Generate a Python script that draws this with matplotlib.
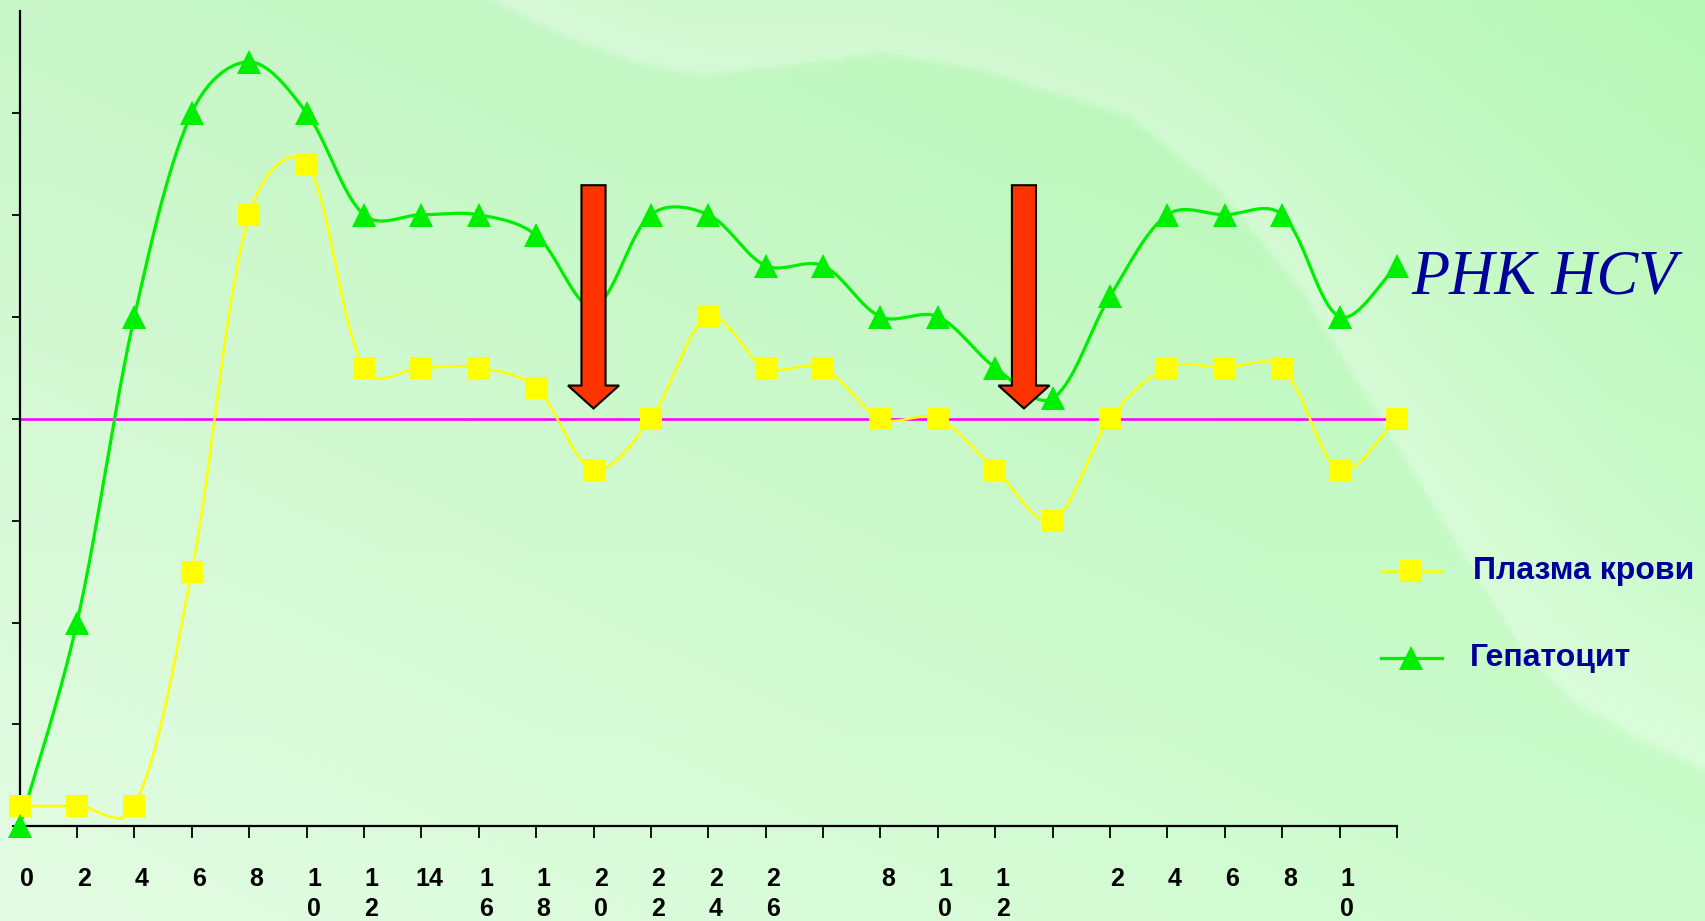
import numpy as np
import matplotlib
matplotlib.use("Agg")
import matplotlib.pyplot as plt
from matplotlib.lines import Line2D
from matplotlib.patches import Polygon
import matplotlib.transforms as mtransforms

# ---------------- data ----------------
tick_labels = ["0", "2", "4", "6", "8", "1\n0", "1\n2", "14", "1\n6", "1\n8",
               "2\n0", "2\n2", "2\n4", "2\n6", "", "8", "1\n0", "1\n2", "",
               "2", "4", "6", "8", "1\n0", ""]
plasma = [0.2, 0.2, 0.2, 2.5, 6.0, 6.5, 4.5, 4.5, 4.5, 4.3, 3.5, 4.0, 5.0,
          4.5, 4.5, 4.0, 4.0, 3.5, 3.0, 4.0, 4.5, 4.5, 4.5, 3.5, 4.0]
hepatocyte = [0.0, 2.0, 5.0, 7.0, 7.5, 7.0, 6.0, 6.0, 6.0, 5.8, 5.1, 6.0, 6.0,
              5.5, 5.5, 5.0, 5.0, 4.5, 4.2, 5.2, 6.0, 6.0, 6.0, 5.0, 5.5]
threshold = 4.0
arrow_x = [10.0, 17.5]
arrow_top = 6.29
arrow_tip = 4.10
series_names = ["Плазма крови", "Гепатоцит"]
title_text = "РНК HCV"

W, H, DPI = 1705, 921, 100
ax_left, ax_right = 19.6, 1397.0
ax_top, ax_bottom = 10.9, 826.4
XMAX, YMAX = len(plasma) - 1, 8
sx_px = (ax_right - ax_left) / XMAX
sy_px = (ax_bottom - ax_top) / YMAX


def smooth(y, n=40, blend=0.5):
    """Excel-like smoothing: Bezier segments, tangents partly chord-length weighted."""
    y = np.asarray(y, float)
    x = np.arange(len(y), dtype=float)
    pts = np.column_stack([x, y])
    scr = np.column_stack([x * sx_px, y * sy_px])
    ext = np.vstack([pts[0], pts, pts[-1]])
    exs = np.vstack([scr[0], scr, scr[-1]])
    out = []
    t = np.linspace(0, 1, n)[:, None]
    for i in range(len(pts) - 1):
        p0, p1, p2, p3 = ext[i], ext[i + 1], ext[i + 2], ext[i + 3]
        s0, s1, s2, s3 = exs[i], exs[i + 1], exs[i + 2], exs[i + 3]
        d01 = np.hypot(*(s1 - s0))
        d12 = np.hypot(*(s2 - s1))
        d23 = np.hypot(*(s3 - s2))
        f1 = d12 / (d01 + d12) if d01 + d12 > 0 else 0.5
        f2 = d12 / (d12 + d23) if d12 + d23 > 0 else 0.5
        f1 = blend * f1 + (1 - blend) * 0.5
        f2 = blend * f2 + (1 - blend) * 0.5
        c1 = p1 + (p2 - p0) * f1 / 3.0
        c2 = p2 - (p3 - p1) * f2 / 3.0
        seg = ((1 - t) ** 3) * p1 + 3 * ((1 - t) ** 2) * t * c1 + 3 * (1 - t) * t ** 2 * c2 + t ** 3 * p2
        out.append(seg if i == 0 else seg[1:])
    out = np.vstack(out)
    return out[:, 0], out[:, 1]


fig = plt.figure(figsize=(W / DPI, H / DPI), dpi=DPI)

# ---------------- background ----------------
ds = 3
gx, gy = np.meshgrid(np.arange(0, W, ds) + ds / 2, np.arange(0, H, ds) + ds / 2)
u = gx / W
v = gy / H
g = 178 + 23.3 * (1 - u) + 26.7 * v
G = 247 + 5 * v
bpts = np.array([(490, 0), (560, 35), (640, 65), (703, 76), (790, 66), (882, 54),
                 (980, 70), (1060, 95), (1131, 117), (1220, 190), (1305, 294),
                 (1413, 470), (1522, 646), (1573, 700), (1631, 734), (1705, 769)], float)
dense = []
for a, b in zip(bpts[:-1], bpts[1:]):
    for s in np.linspace(0, 1, 12, endpoint=False):
        dense.append(a + (b - a) * s)
dense.append(bpts[-1])
dense = np.array(dense)
dmin = np.full(gx.shape, 1e9)
for px, py in dense:
    dmin = np.minimum(dmin, np.hypot(gx - px, gy - py))
yb = np.interp(gx, bpts[:, 0], bpts[:, 1], left=-1e9, right=bpts[-1, 1])
sign = np.where((gy < yb) & (gx >= 490), 1.0, -1.0)
sd = sign * dmin
edge = 1.0 / (1.0 + np.exp(-sd / 2.5))
alpha = 0.34 * np.exp(-np.maximum(sd, 0) / 230.0) * edge
R = g + alpha * (255 - g)
Gc = G + alpha * (255 - G)
img = np.clip(np.dstack([R, Gc, R]) / 255.0, 0, 1)
bg = fig.add_axes([0, 0, 1, 1], zorder=-10)
bg.imshow(img, extent=[0, W, H, 0], aspect="auto", interpolation="bilinear")
bg.set_axis_off()

# ---------------- main axes ----------------
ax = fig.add_axes([ax_left / W, (H - ax_bottom) / H, (ax_right - ax_left) / W, (ax_bottom - ax_top) / H])
ax.set_facecolor("none")
ax.set_xlim(0, XMAX)
ax.set_ylim(0, YMAX)
for s in ["top", "right"]:
    ax.spines[s].set_visible(False)
for s in ["left", "bottom"]:
    ax.spines[s].set_linewidth(1.6)
    ax.spines[s].set_color("black")

x = np.arange(len(plasma))
ax.set_xticks(x)
ax.set_xticklabels(tick_labels, fontfamily=["Liberation Sans", "DejaVu Sans"],
                   fontweight="bold", fontsize=18, linespacing=1.32)
ax.set_yticks(np.arange(0, YMAX))
ax.set_yticklabels([])
ax.tick_params(axis="x", direction="out", length=8.5, width=1.3, pad=21, colors="black")
ax.tick_params(axis="y", direction="out", length=6, width=1.3)
offset = mtransforms.ScaledTranslation(0.075, 0, fig.dpi_scale_trans)
for lab in ax.get_xticklabels():
    lab.set_transform(lab.get_transform() + offset)

ax.axhline(threshold, color="#ff00ff", lw=1.9, zorder=2)

px_, py_ = smooth(plasma)
ax.plot(px_, py_, color="#ffff00", lw=1.8, zorder=3, clip_on=False)
ax.plot(x, plasma, ls="none", marker="s", ms=15.5, color="#ffff00", mew=0,
        zorder=4, clip_on=False)
hx, hy = smooth(hepatocyte)
ax.plot(hx, hy, color="#00ee00", lw=2.3, zorder=3, clip_on=False)
ax.plot(x, hepatocyte, ls="none", marker="^", ms=17, color="#00ee00", mew=0,
        zorder=4, clip_on=False)

# arrows
shaft_w, head_w, head_len = 0.42, 0.89, 0.225
for axx in arrow_x:
    poly = [(axx - shaft_w / 2, arrow_top), (axx + shaft_w / 2, arrow_top),
            (axx + shaft_w / 2, arrow_tip + head_len), (axx + head_w / 2, arrow_tip + head_len),
            (axx, arrow_tip), (axx - head_w / 2, arrow_tip + head_len),
            (axx - shaft_w / 2, arrow_tip + head_len)]
    ax.add_patch(Polygon(poly, closed=True, facecolor="#ff3300", edgecolor="black",
                         lw=1.5, zorder=6, joinstyle="miter"))

# title label
fig.text(1411 / W, 1 - 293 / H, title_text, fontfamily=["Liberation Serif", "DejaVu Serif"],
         fontstyle="italic", fontsize=45, color="#000099", ha="left", va="baseline")

# legend (manual)
leg_items = [(571, "#ffff00", "s", 15.5, 1.8, 1473, series_names[0]),
             (658, "#00ee00", "^", 17, 2.3, 1470, series_names[1])]
for yy, col, mk, ms, lw, tx, name in leg_items:
    yf = 1 - yy / H
    fig.add_artist(Line2D([1381 / W, 1442 / W], [yf, yf], color=col, lw=lw,
                          transform=fig.transFigure))
    fig.add_artist(Line2D([1411 / W], [yf], color=col, marker=mk, ms=ms, mew=0,
                          ls="none", transform=fig.transFigure))
    fig.text(tx / W, yf, name, fontfamily=["Liberation Sans", "DejaVu Sans"], fontweight="bold",
             fontsize=23, color="#000099", ha="left", va="center")

fig.savefig("out.png", dpi=DPI)
